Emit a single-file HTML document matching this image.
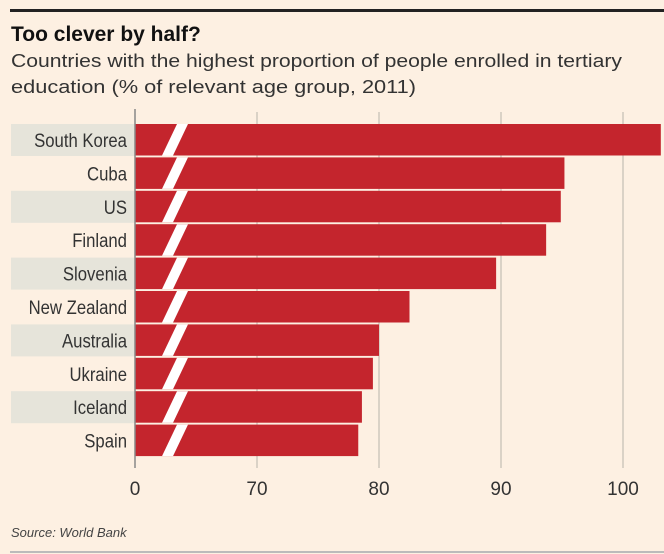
<!DOCTYPE html>
<html><head><meta charset="utf-8"><style>
body{margin:0;background:#fdf0e2;}
svg{display:block;font-family:"Liberation Sans",sans-serif;}
</style></head><body>
<svg width="664" height="554" viewBox="0 0 664 554">
<rect width="664" height="554" fill="#fdf0e2"/>
<rect x="10" y="9" width="654" height="3" fill="#222"/>
<text x="11" y="41" font-size="21" font-weight="bold" fill="#111">Too clever by half?</text>
<text x="11" y="67" font-size="18" fill="#333" textLength="611" lengthAdjust="spacingAndGlyphs">Countries with the highest proportion of people enrolled in tertiary</text>
<text x="11" y="93" font-size="18" fill="#333" textLength="405" lengthAdjust="spacingAndGlyphs">education (% of relevant age group, 2011)</text>
<g id="grid"></g>
<g id="bars"></g>
<g id="ticks"></g>
<text x="11" y="537" font-size="13" font-style="italic" fill="#444">Source: World Bank</text>
<rect x="10" y="551" width="654" height="2" fill="#bbb"/>
</svg>
<script>
const countries=["South Korea","Cuba","US","Finland","Slovenia","New Zealand","Australia","Ukraine","Iceland","Spain"];
const values=[103.1,95.2,94.9,93.7,89.6,82.5,80.0,79.5,78.6,78.3];
const tickValues=[70,80,90,100];
const tickLabels=["70","80","90","100"];
const NS="http://www.w3.org/2000/svg";
const x0=135,pxPer=12.2,base=60;
const xs=v=>x0+(v-base)*pxPer;
const rowTop=i=>124+i*33.4;
function mk(t,a,p){const e=document.createElementNS(NS,t);for(const k in a)e.setAttribute(k,a[k]);p.appendChild(e);return e;}
const grid=document.getElementById('grid'),bars=document.getElementById('bars'),ticks=document.getElementById('ticks');
countries.forEach((c,i)=>{
  const y=rowTop(i);
  if(i%2===0){const bg=mk('rect',{x:11,y:y,width:x0-11,height:32,fill:'#e6e4da'},grid);
  
  }
  const t=mk('text',{x:127,y:y+23,'font-size':19,'text-anchor':'end',fill:'#333',transform:`translate(127 0) scale(0.88 1) translate(-127 0)`},bars);t.textContent=c;
  
  
});
tickValues.forEach((v,i)=>{
  const l=mk('line',{x1:xs(v),x2:xs(v),y1:112,y2:468,stroke:'#cfc8bd','stroke-width':1.5},grid);
  
  
  const t=mk('text',{x:xs(v),y:495,'font-size':19,'text-anchor':'middle',fill:'#333'},ticks);t.textContent=tickLabels[i];
  
  
});
const z=mk('text',{x:x0,y:495,'font-size':19,'text-anchor':'middle',fill:'#333'},ticks);z.textContent="0";


values.forEach((v,i)=>{
  const y=rowTop(i);
  const b=mk('rect',{x:x0,y:y,width:xs(v)-x0,height:31.5,fill:'#c4252d'},bars);
  
  
  const s=mk('polygon',{points:`${x0+42},${y} ${x0+53},${y} ${x0+38},${y+31.5} ${x0+27},${y+31.5}`,fill:'#fff'},bars);
  
  
});
const ax=mk('line',{x1:x0,x2:x0,y1:109,y2:468,stroke:'#888','stroke-width':1.5},ticks);


</script>
</body></html>
